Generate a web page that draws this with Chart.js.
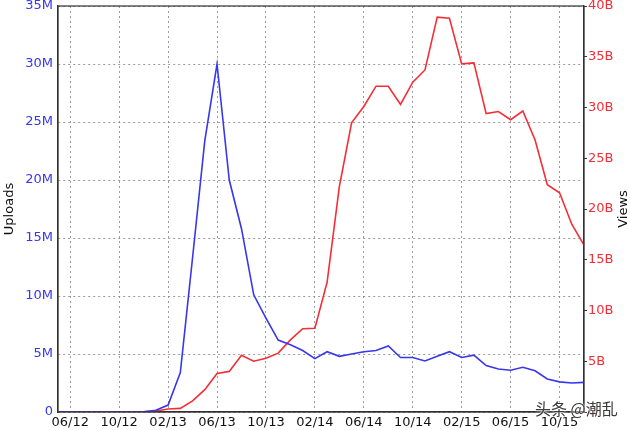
<!DOCTYPE html>
<html lang="en">
<head>
    <meta charset="UTF-8">
    <title>Uploads vs Views</title>
    <script src="https://cdn.jsdelivr.net/npm/chart.js"></script>
    <style>
        body {
            margin: 0;
            background: #fff;
            font-family: "DejaVu Sans", sans-serif;
        }
        .wrap {
            position: relative;
            width: 630px;
            height: 430px;
        }
        .mark {
            position: absolute;
            left: 535px;
            top: 396px;
            font-family: "Noto Sans CJK SC", sans-serif;
            font-size: 16px;
            color: #3a3a3a;
            text-shadow: 0 0 2px #fff, 0 0 2px #fff;
        }
    </style>
</head>
<body>
    <div class="wrap">
        <canvas id="myChart" width="630" height="430"></canvas>
        <div class="mark">头条 @潮乱</div>
    </div>

    <script>
        // monthly, 05/12 .. 12/15
        const months = [
            '05/12','06/12','07/12','08/12','09/12','10/12','11/12','12/12',
            '01/13','02/13','03/13','04/13','05/13','06/13','07/13','08/13','09/13','10/13','11/13','12/13',
            '01/14','02/14','03/14','04/14','05/14','06/14','07/14','08/14','09/14','10/14','11/14','12/14',
            '01/15','02/15','03/15','04/15','05/15','06/15','07/15','08/15','09/15','10/15','11/15','12/15'
        ];
        const xTickLabels = ['06/12','10/12','02/13','06/13','10/13','02/14','06/14','10/14','02/15','06/15','10/15'];

        // uploads, millions
        const uploads = [
            0, 0, 0, 0, 0, 0, 0, 0.02,
            0.15, 0.6, 3.4, 13.3, 23.4, 30, 20, 15.8, 10.1, 8.1, 6.2, 5.8,
            5.3, 4.6, 5.2, 4.8, 5.0, 5.2, 5.3, 5.7, 4.7, 4.7, 4.4, 4.8,
            5.2, 4.7, 4.9, 4.0, 3.7, 3.6, 3.85, 3.55, 2.85, 2.6, 2.5, 2.55
        ];
        // views, billions
        const views = [
            0, 0, 0, 0, 0, 0, 0, 0.02,
            0.1, 0.3, 0.36, 1.1, 2.2, 3.8, 4.0, 5.6, 5.0, 5.3, 5.8, 7.1,
            8.2, 8.25, 12.8, 22.2, 28.5, 30.1, 32.1, 32.1, 30.3, 32.5, 33.7, 38.9,
            38.8, 34.3, 34.4, 29.4, 29.6, 28.8, 29.65, 26.8, 22.4, 21.6, 18.5, 16.45
        ];

        const BLUE = 'rgb(55, 55, 235)';
        const RED = 'rgb(245, 45, 55)';
        const GRID = 'rgba(130, 130, 130, 0.8)';
        const AXIS = '#333';
        const tickFont = { family: 'DejaVu Sans', size: 13 };

        const frame = {
            id: 'frame',
            afterDraw(chart) {
                const { ctx, chartArea: a } = chart;
                ctx.save();
                ctx.strokeStyle = AXIS;
                ctx.lineWidth = 1.2;
                ctx.strokeRect(a.left, a.top, a.right - a.left, a.bottom - a.top);
                // right axis title reads bottom-to-top
                ctx.translate(624, (a.top + a.bottom) / 2);
                ctx.rotate(-Math.PI / 2);
                ctx.fillStyle = '#111';
                ctx.font = '13px "DejaVu Sans"';
                ctx.textAlign = 'center';
                ctx.textBaseline = 'middle';
                ctx.fillText('Views', 0, 0);
                ctx.restore();
            }
        };

        function noPad(scale) {
            scale.paddingTop = 0;
            scale.paddingBottom = 0;
        }

        const ctx = document.getElementById('myChart').getContext('2d');
        new Chart(ctx, {
            type: 'line',
            data: {
                labels: months,
                datasets: [{
                    label: 'Uploads',
                    data: uploads,
                    yAxisID: 'y',
                    borderColor: BLUE,
                    borderWidth: 1.6,
                    pointRadius: 0,
                    tension: 0
                }, {
                    label: 'Views',
                    data: views,
                    yAxisID: 'y2',
                    borderColor: RED,
                    borderWidth: 1.6,
                    pointRadius: 0,
                    tension: 0
                }]
            },
            options: {
                responsive: false,
                animation: false,
                layout: { padding: { top: 6, left: 0, right: 0, bottom: 0 } },
                plugins: {
                    legend: { display: false },
                    tooltip: { enabled: false }
                },
                scales: {
                    x: {
                        offset: false,
                        afterBuildTicks(scale) {
                            scale.ticks = scale.ticks.filter(t => xTickLabels.includes(months[t.value]));
                        },
                        afterFit(scale) {
                            scale.height = 18;
                            scale.paddingLeft = 0;
                            scale.paddingRight = 0;
                        },
                        ticks: {
                            autoSkip: false,
                            maxRotation: 0,
                            padding: 3,
                            color: '#111',
                            font: tickFont
                        },
                        grid: { color: GRID, drawTicks: false, lineWidth: 1 },
                        border: { color: AXIS, width: 1.2, dash: [2, 3] }
                    },
                    y: {
                        position: 'left',
                        min: 0,
                        max: 35,
                        afterFit(scale) { scale.width = 58; noPad(scale); },
                        ticks: {
                            stepSize: 5,
                            padding: 5,
                            color: BLUE,
                            font: tickFont,
                            callback: v => v === 0 ? '0' : v + 'M'
                        },
                        title: {
                            display: true,
                            text: 'Uploads',
                            color: '#111',
                            font: tickFont,
                            padding: { top: 2, bottom: 0 }
                        },
                        grid: { color: GRID, drawTicks: false, lineWidth: 1 },
                        border: { color: AXIS, width: 1.2, dash: [2, 3] }
                    },
                    y2: {
                        position: 'right',
                        min: 0,
                        max: 40,
                        afterFit(scale) { scale.width = 46; noPad(scale); },
                        ticks: {
                            stepSize: 5,
                            padding: 1,
                            color: RED,
                            font: tickFont,
                            callback: v => v === 0 ? '0' : v + 'B'
                        },
                        grid: { drawOnChartArea: false, drawTicks: true, tickLength: 3, tickColor: AXIS },
                        border: { color: AXIS, width: 1.2 }
                    }
                }
            },
            plugins: [frame]
        });
    </script>
</body>
</html>
